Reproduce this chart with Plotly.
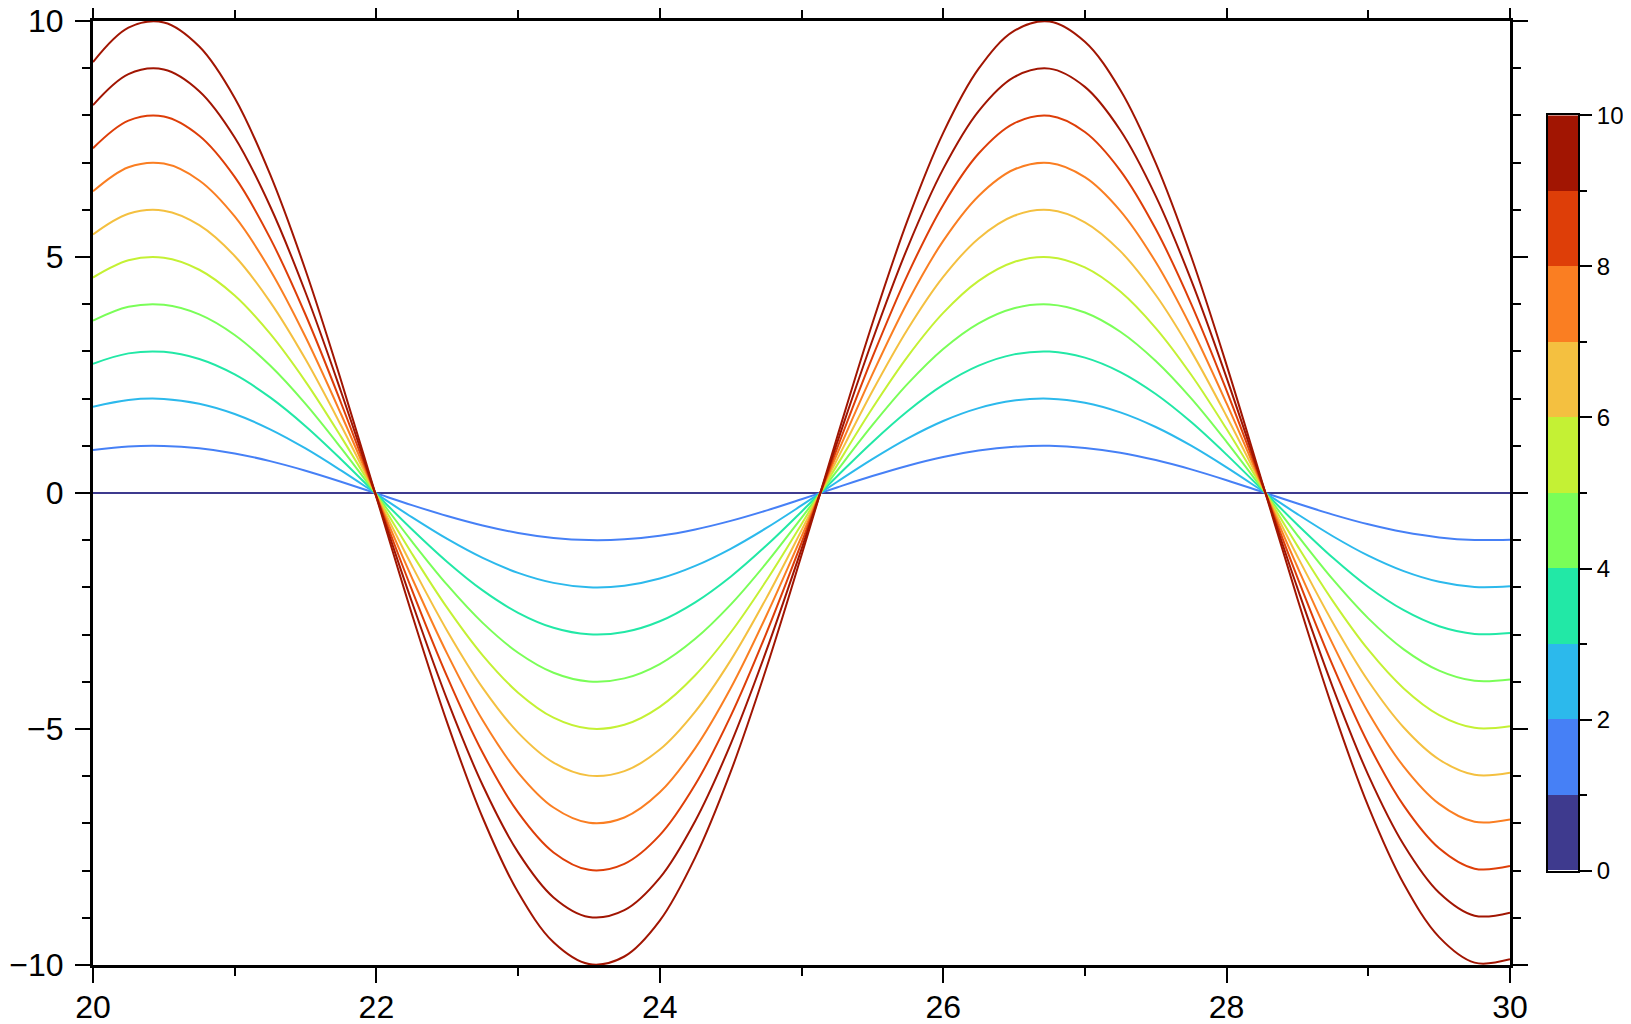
import plotly.graph_objects as go

# sample positions along x
x_vals = [20.0, 20.25, 20.5, 20.75, 21.0, 21.25, 21.5, 21.75, 22.0, 22.25, 22.5,
          22.75, 23.0, 23.25, 23.5, 23.75, 24.0, 24.25, 24.5, 24.75, 25.0, 25.25,
          25.5, 25.75, 26.0, 26.25, 26.5, 26.75, 27.0, 27.25, 27.5, 27.75, 28.0,
          28.25, 28.5, 28.75, 29.0, 29.25, 29.5, 29.75, 30.0]
# unit-amplitude curve read at those positions
base_curve = [0.913, 0.986, 0.997, 0.946, 0.837, 0.675, 0.472, 0.239, -0.009, -0.256,
              -0.487, -0.688, -0.846, -0.952, -0.998, -0.982, -0.906, -0.772, -0.591,
              -0.373, -0.132, 0.117, 0.359, 0.579, 0.763, 0.899, 0.979, 0.999, 0.956,
              0.854, 0.699, 0.501, 0.271, 0.024, -0.224, -0.458, -0.664, -0.828, -0.941,
              -0.995, -0.988]
amplitudes = [0, 1, 2, 3, 4, 5, 6, 7, 8, 9, 10]

# discrete colour bins 0-1, 1-2, ..., 9-10
bin_colors = ["#3e3a8e", "#4680f6", "#2cb9ec", "#22e8a6", "#7afe58",
              "#c4f134", "#f4c040", "#fa7e22", "#de3e08", "#a11502"]
bin_low = [0, 1, 2, 3, 4, 5, 6, 7, 8, 9]
bin_size = [1, 1, 1, 1, 1, 1, 1, 1, 1, 1]

x_ticks = [20, 22, 24, 26, 28, 30]
y_ticks = [-10, -5, 0, 5, 10]
cb_ticks = [0, 2, 4, 6, 8, 10]

fig = go.Figure()
for a in amplitudes:
    col = bin_colors[min(a, len(bin_colors) - 1)]
    fig.add_trace(go.Scatter(
        x=x_vals, y=[a * v for v in base_curve], mode="lines",
        line=dict(color=col, width=2, shape="spline", smoothing=1.0),
        hoverinfo="skip", xaxis="x", yaxis="y"))

fig.add_trace(go.Bar(
    x=[0] * len(bin_low), y=bin_size, base=bin_low, width=1,
    marker=dict(color=bin_colors, line=dict(width=0)),
    xaxis="x2", yaxis="y2", hoverinfo="skip"))

FONT = "Liberation Sans, Arial, sans-serif"
fig.update_layout(
    width=1631, height=1024,
    margin=dict(l=85, r=61, t=13, b=67),
    plot_bgcolor="white", paper_bgcolor="white",
    showlegend=False, bargap=0,
    font=dict(family=FONT, color="black"),
    xaxis=dict(domain=[0, 0.95421], range=[20, 30], tickvals=x_ticks,
               ticks="outside", ticklen=15, tickwidth=2, tickcolor="black",
               showline=True, linewidth=3, linecolor="black", mirror="allticks",
               minor=dict(dtick=1, tick0=20, ticks="outside", ticklen=8, tickwidth=2, tickcolor="black"),
               showgrid=False, zeroline=False, tickfont=dict(size=32), layer="above traces",
               ticklabelstandoff=-3, ticklabeloverflow="allow", automargin=False),
    yaxis=dict(domain=[0, 1], range=[-10, 10], tickvals=y_ticks,
               ticks="outside", ticklen=15, tickwidth=2, tickcolor="black",
               showline=True, linewidth=3, linecolor="black", mirror="allticks",
               minor=dict(dtick=1, tick0=0, ticks="outside", ticklen=8, tickwidth=2, tickcolor="black"),
               showgrid=False, zeroline=False, tickfont=dict(size=32), layer="above traces",
               ticklabelstandoff=5, ticklabeloverflow="allow", automargin=False),
    xaxis2=dict(domain=[0.9796, 1.0], anchor="y2", range=[-0.5, 0.5],
                showticklabels=False, ticks="", showline=True, linewidth=2,
                linecolor="black", mirror=True, showgrid=False, zeroline=False,
                automargin=False),
    yaxis2=dict(domain=[0.1, 0.9], anchor="x2", side="right", range=[0, 10],
                tickvals=cb_ticks, ticks="outside", ticklen=12, tickwidth=2,
                tickcolor="black", showline=True, linewidth=2, linecolor="black",
                mirror=True,
                minor=dict(dtick=1, tick0=0, ticks="outside", ticklen=7, tickwidth=2, tickcolor="black"),
                showgrid=False, zeroline=False, tickfont=dict(size=24),
                ticklabelstandoff=0, ticklabeloverflow="allow", automargin=False),
)

fig.write_html("out.html")
